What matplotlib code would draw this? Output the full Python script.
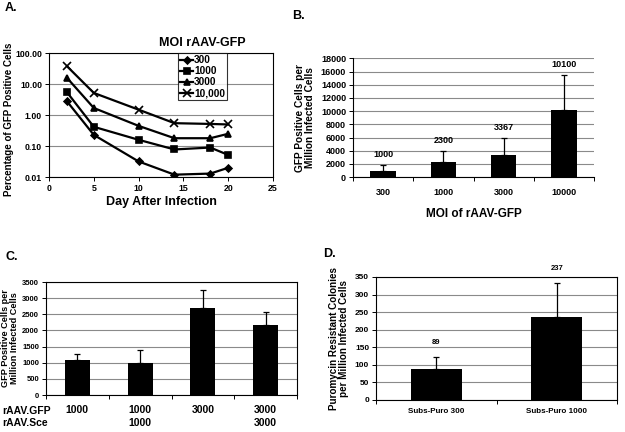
import matplotlib
matplotlib.use("Agg")
import matplotlib.pyplot as plt
import numpy as np
from matplotlib.ticker import FixedLocator, NullFormatter

plt.rcParams['font.family'] = ['Liberation Sans', 'DejaVu Sans']
plt.rcParams['font.weight'] = 'bold'

# ---------------- data ----------------
# Panel A
days = [2, 5, 10, 14, 18, 20]
moi_labels = ["300", "1000", "3000", "10,000"]
pct_300 = [2.8, 0.23, 0.032, 0.012, 0.013, 0.02]
pct_1000 = [5.5, 0.42, 0.16, 0.078, 0.09, 0.052]
pct_3000 = [16, 1.7, 0.45, 0.18, 0.18, 0.25]
pct_10000 = [38, 5.2, 1.5, 0.55, 0.52, 0.5]
a_yticks = [0.01, 0.1, 1, 10, 100]
a_yticklabels = ["0.01", "0.10", "1.00", "10.00", "100.00"]

# Panel B
b_cats = ["300", "1000", "3000", "10000"]
b_vals = [1000, 2300, 3367, 10100]
b_err = [900, 1650, 2633, 5400]
b_labels = ["1000", "2300", "3367", "10100"]

# Panel C
c_gfp = ["1000", "1000", "3000", "3000"]
c_sce = ["", "1000", "", "3000"]
c_vals = [1100, 980, 2680, 2180]
c_err = [180, 410, 580, 400]

# Panel D
d_cats = ["Subs-Puro 300", "Subs-Puro 1000"]
d_vals = [89, 237]
d_err = [33, 95]
d_labels = ["89", "237"]

# ---------------- figure ----------------
fig = plt.figure(figsize=(6.25, 4.32), dpi=100)

grid_kw = dict(color="#8a8a8a", lw=0.8)


def bar_panel(ax, vals, errs, width, ymax, ystep):
    x = np.arange(len(vals))
    ax.bar(x, vals, width=width, color="black", zorder=3)
    ax.errorbar(x, vals, yerr=[np.zeros(len(vals)), errs], fmt="none",
                ecolor="black", elinewidth=0.9, capsize=2.5, capthick=0.9, zorder=4)
    ax.set_xlim(-0.5, len(vals) - 0.5)
    ax.set_ylim(0, ymax)
    ax.set_yticks(np.arange(0, ymax + 1, ystep))
    ax.yaxis.grid(True, **grid_kw)
    ax.set_axisbelow(True)
    ax.xaxis.set_major_locator(FixedLocator(x))
    ax.xaxis.set_minor_locator(FixedLocator(np.arange(len(vals) + 1) - 0.5))
    ax.xaxis.set_minor_formatter(NullFormatter())
    ax.tick_params(axis="x", which="major", length=0, pad=8)
    ax.tick_params(axis="x", which="minor", length=3, width=0.7, direction="out")
    ax.tick_params(axis="y", length=3, width=0.7, direction="out", pad=2)
    for s in ax.spines.values():
        s.set_linewidth(0.8)
    return x


# Panel A
axA = fig.add_axes([0.0784, 0.590, 0.3584, 0.287])
series = [pct_300, pct_1000, pct_3000, pct_10000]
markers = ["D", "s", "^", "x"]
msizes = [3.5, 4, 4.5, 5.5]
for vals, m, ms, lab in zip(series, markers, msizes, moi_labels):
    axA.plot(days, vals, color="black", lw=1.6, marker=m, ms=ms, mew=1.2, label=lab)
axA.set_yscale("log")
axA.set_ylim(0.01, 100)
axA.set_xlim(0, 25)
axA.set_yticks(a_yticks)
axA.set_yticklabels(a_yticklabels)
axA.yaxis.set_minor_locator(FixedLocator([]))
axA.set_xticks(range(0, 26, 5))
axA.yaxis.grid(True, **grid_kw)
axA.set_axisbelow(True)
axA.tick_params(axis="both", labelsize=6.3, length=3, width=0.7, direction="out", pad=2)
for s in axA.spines.values():
    s.set_linewidth(0.8)
axA.set_xlabel("Day After Infection", fontsize=9, fontweight="bold", labelpad=2)
axA.set_ylabel("Percentage of GFP Positive Cells", fontsize=7, fontweight="bold")
axA.yaxis.set_label_coords(-0.155, 0.47)
leg = axA.legend(loc="upper left", bbox_to_anchor=(0.576, 1.0), fontsize=7.3,
                 frameon=True, fancybox=False, handlelength=1.3, handletextpad=0.1,
                 borderpad=0.2, labelspacing=0.1, borderaxespad=0)
leg.get_frame().set_edgecolor("black")
leg.get_frame().set_linewidth(0.8)
for t in leg.get_texts():
    t.set_fontweight("bold")
axA.text(0.685, 1.035, "MOI rAAV-GFP", transform=axA.transAxes, ha="center", va="bottom",
         fontsize=9, fontweight="bold")
fig.text(0.008, 0.995, "A.", fontsize=9, fontweight="bold", va="top")

# Panel B
axB = fig.add_axes([0.5648, 0.590, 0.3856, 0.275])
xb = bar_panel(axB, b_vals, b_err, 0.42, 18000, 2000)
axB.spines["top"].set_visible(False)
axB.spines["right"].set_visible(False)
axB.set_xticklabels(b_cats, fontsize=6.5)
axB.tick_params(axis="y", labelsize=6.5)
for xi, v, e, lab in zip(xb, b_vals, b_err, b_labels):
    axB.annotate(lab, (xi, v + e), xytext=(0, 4), textcoords="offset points",
                 ha="center", va="bottom", fontsize=6.5, fontweight="bold")
axB.set_xlabel("MOI of rAAV-GFP", fontsize=8.5, fontweight="bold", labelpad=8)
axB.set_ylabel("GFP Positive Cells per\nMillion Infected Cells", fontsize=7.3,
               fontweight="bold", labelpad=4, linespacing=1.0)
fig.text(0.468, 0.978, "B.", fontsize=9, fontweight="bold", va="top")

# Panel C
axC = fig.add_axes([0.0736, 0.0856, 0.4016, 0.2616])
xc = bar_panel(axC, c_vals, c_err, 0.4, 3500, 500)
axC.set_xticklabels([])
axC.tick_params(axis="y", labelsize=5.5)
for xi, g, s in zip(xc, c_gfp, c_sce):
    axC.text(xi, -0.13, g, transform=axC.get_xaxis_transform(), ha="center", va="center",
             fontsize=7.5, fontweight="bold")
    axC.text(xi, -0.245, s, transform=axC.get_xaxis_transform(), ha="center", va="center",
             fontsize=7.5, fontweight="bold")
fig.text(0.003, 0.048, "rAAV.GFP", fontsize=7.5, fontweight="bold", va="center")
fig.text(0.003, 0.021, "rAAV.Sce", fontsize=7.5, fontweight="bold", va="center")
axC.set_ylabel("GFP Positive Cells per\nMillion Infected Cells", fontsize=6.6,
               fontweight="bold", labelpad=2, linespacing=1.0)
fig.text(0.008, 0.418, "C.", fontsize=9, fontweight="bold", va="top")

# Panel D
axD = fig.add_axes([0.6016, 0.0741, 0.3856, 0.2847])
xd = bar_panel(axD, d_vals, d_err, 0.42, 350, 50)
axD.set_xticklabels(d_cats, fontsize=5.8)
axD.tick_params(axis="x", which="major", pad=6)
axD.tick_params(axis="y", labelsize=6)
for xi, v, e, lab in zip(xd, d_vals, d_err, d_labels):
    axD.annotate(lab, (xi, v + e), xytext=(0, 8), textcoords="offset points",
                 ha="center", va="bottom", fontsize=5.5, fontweight="bold")
axD.set_ylabel("Puromycin Resistant Colonies\nper Million Infected Cells", fontsize=7.1,
               fontweight="bold", labelpad=4, linespacing=1.0)
fig.text(0.517, 0.425, "D.", fontsize=9, fontweight="bold", va="top")

fig.savefig("out.png", dpi=100)
